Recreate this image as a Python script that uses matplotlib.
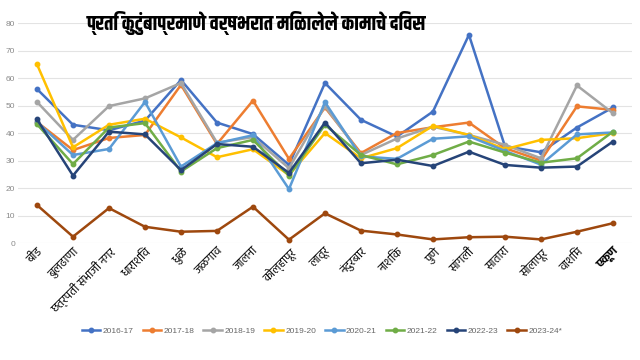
import matplotlib
matplotlib.use("Agg")
import matplotlib.pyplot as plt

districts = ["बीड", "बुलढाणा", "छत्रपती संभाजी नगर", "धाराशिव", "धुळे", "जळगाव",
             "जालना", "कोल्हापूर", "लातूर", "नंदुरबार", "नाशिक", "पुणे", "सांगली",
             "सातारा", "सोलापूर", "वाशिम", "एकूण"]

years = ["2016-17", "2017-18", "2018-19", "2019-20", "2020-21", "2021-22", "2022-23", "2023-24*"]

y2016 = [56, 43, 41, 44.5, 59.3, 43.8, 39.6, 28.4, 58.2, 44.8, 38.7, 47.8, 75.7, 35.2, 33, 42, 49.3]
y2017 = [44, 33.8, 38.2, 39.3, 57.5, 36, 51.8, 30.6, 49.3, 32.7, 40, 42.1, 43.8, 34.5, 30, 49.7, 48.4]
y2018 = [51.3, 37.5, 49.8, 52.6, 58.2, 36.5, 38.5, 27.2, 49.8, 32, 38, 42.3, 39.3, 35.7, 30.8, 57.3, 47.2]
y2019 = [65, 34.8, 43, 45.2, 38.4, 31.2, 34.1, 24.7, 40, 30.8, 34.5, 42.6, 39.3, 34.1, 37.5, 38.1, 40]
y2020 = [44, 32, 34.2, 51.3, 27.8, 36.3, 39.2, 19.6, 51.2, 31.5, 30.6, 37.9, 38.8, 33.5, 28.5, 39.5, 40.2]
y2021 = [43.2, 28.7, 42, 43.6, 26, 34.5, 37.5, 24.5, 43, 32, 28.6, 32, 36.9, 32.9, 29.2, 30.8, 40.5]
y2022 = [45, 24.5, 40.5, 39.5, 26.5, 36, 35, 25.5, 43.8, 29, 30.3, 28, 33.2, 28.4, 27.4, 27.8, 36.9]
y2023 = [13.8, 2.3, 12.7, 5.9, 4.1, 4.4, 13.2, 1.2, 10.8, 4.5, 3.1, 1.3, 2.1, 2.3, 1.3, 4.1, 7.2]

series = [y2016, y2017, y2018, y2019, y2020, y2021, y2022, y2023]
colors = ["#4472C4", "#ED7D31", "#A5A5A5", "#FFC000", "#5B9BD5", "#70AD47", "#264478", "#9E480E"]

plt.rcParams["font.family"] = ["Hind", "DejaVu Sans"]

fig = plt.figure(figsize=(6.4, 3.6), dpi=100)
ax = fig.add_axes([0.028, 0.325, 0.9595, 0.611])

x = list(range(len(districts)))
for vals, name, c in zip(series, years, colors):
    ax.plot(x, vals, color=c, lw=1.8, marker="o", ms=3.2, label=name)

ax.set_xlim(-0.53, 16.53)
ax.set_ylim(0, 80)
ax.set_yticks(range(0, 81, 10))
ax.grid(axis="y", color="#e3e3e3", lw=0.8)
ax.set_axisbelow(True)
for s in ax.spines.values():
    s.set_visible(False)
ax.tick_params(axis="y", length=0, labelsize=6, labelcolor="#8a8a8a", pad=2)
for t in ax.get_yticklabels():
    t.set_family(["Liberation Sans", "DejaVu Sans"])
ax.tick_params(axis="x", length=0, pad=2)
ax.set_xticks(x)
ax.set_xticklabels(districts, rotation=45, ha="right", rotation_mode="anchor", fontsize=8.5)
ax.get_xticklabels()[-1].set_fontweight("bold")

fig.text(0.40, 0.935, "प्रति कुटुंबाप्रमाणे वर्षभरात मिळालेले कामाचे दिवस",
         ha="center", va="center", fontsize=14.5, fontweight="bold",
         family=["Khand", "DejaVu Sans"])

leg = fig.legend(loc="center", bbox_to_anchor=(0.503, 0.08), ncol=8, frameon=False,
                 prop={"family": ["Liberation Sans", "DejaVu Sans"], "size": 6},
                 handlelength=2.2, columnspacing=1.1, handletextpad=0.3)
for t in leg.get_texts():
    t.set_color("#666666")

fig.savefig("out.png", dpi=100)
